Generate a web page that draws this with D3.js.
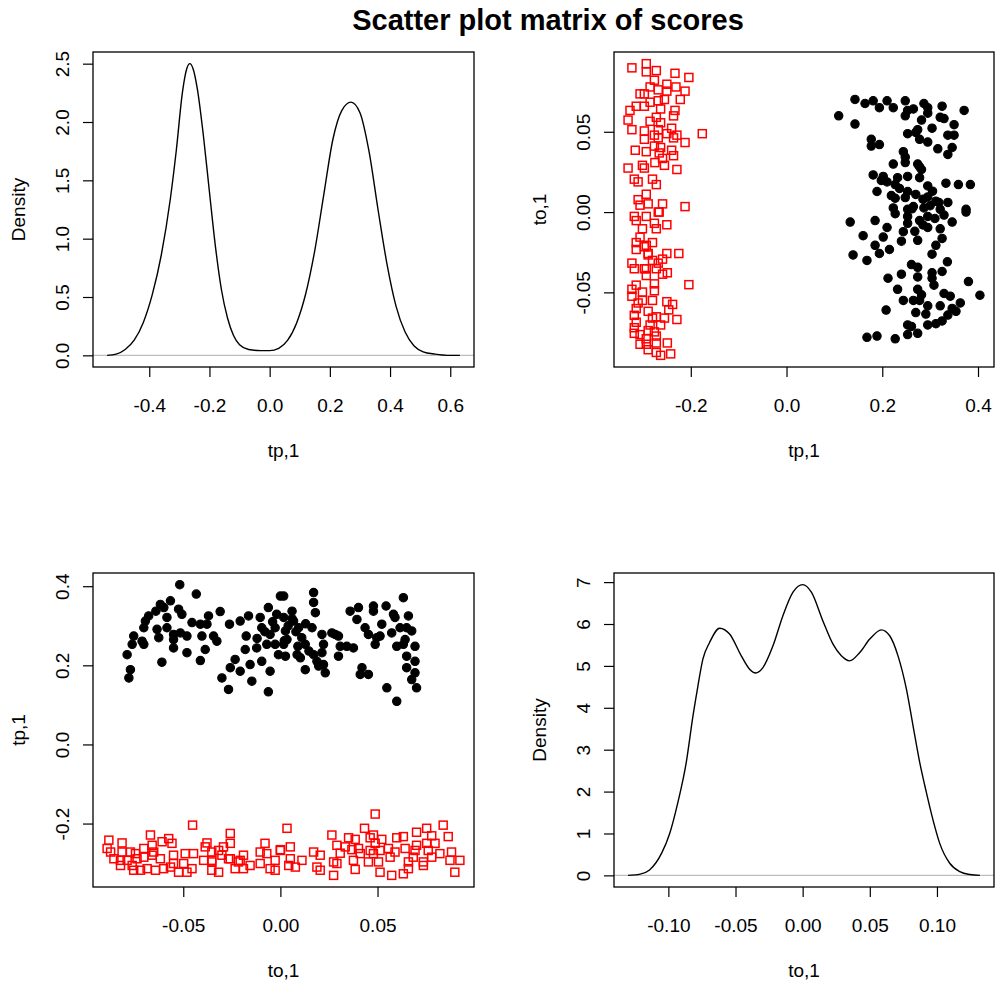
<!DOCTYPE html>
<html>
<head>
<meta charset="utf-8">
<script src="https://cdn.jsdelivr.net/npm/d3@7"></script>
<style>
  body { margin: 0; background: #fff; }
  svg { display: block; }
  text { font-family: "Liberation Sans", Arial, Helvetica, sans-serif; fill: #000; }
</style>
</head>
<body>
<svg id="chart" width="995" height="981"></svg>
<script>
// Scores of the first group: [to,1 , tp,1]
const blackScores = [
  [-0.0518,0.404],[-0.0433,0.380],[-0.0566,0.363],[-0.0618,0.354],[-0.0600,0.346],[-0.0641,0.337],
  [-0.0524,0.342],[-0.0507,0.329],[-0.0678,0.325],[-0.0695,0.312],[-0.0584,0.321],[-0.0370,0.325],
  [-0.0310,0.336],[-0.0455,0.308],[-0.0412,0.304],[-0.0378,0.304],[-0.0703,0.295],[-0.0635,0.291],
  [-0.0584,0.295],[-0.0550,0.278],[-0.0515,0.282],[-0.0481,0.274],[-0.0626,0.270],[-0.0755,0.274],
  [-0.0712,0.261],[-0.0763,0.253],[-0.0703,0.253],[-0.0550,0.265],[-0.0550,0.244],[-0.0404,0.274],
  [-0.0344,0.274],[-0.0327,0.261],[-0.0387,0.240],[-0.0481,0.232],[-0.0789,0.227],[-0.0412,0.212],
  [-0.0610,0.208],[-0.0772,0.189],[-0.0780,0.168],[-0.0301,0.168],[-0.0267,0.139],[-0.0262,0.304],
  [-0.0207,0.312],[-0.0164,0.325],[-0.0176,0.274],[-0.0181,0.240],[-0.0233,0.215],[-0.0258,0.194],
  [-0.0207,0.185],[-0.0156,0.202],[-0.0147,0.160],[-0.0096,0.210],[-0.0122,0.244],[-0.0070,0.253],
  [-0.0053,0.185],[-0.0062,0.133],[-0.0104,0.321],[-0.0062,0.346],[-0.0096,0.295],[-0.0053,0.278],
  [-0.0019,0.329],[-0.0027,0.295],[0.0000,0.375],[-0.0010,0.227],[-0.0027,0.253],
  [0.0017,0.375],[0.0171,0.384],[0.0171,0.359],[0.0180,0.333],[0.0060,0.337],[0.0017,0.321],
  [0.0068,0.312],[0.0094,0.295],[0.0026,0.287],[0.0034,0.265],[0.0017,0.253],[0.0026,0.223],
  [0.0086,0.227],[0.0128,0.253],[0.0163,0.295],[0.0147,0.236],[0.0171,0.227],[0.0188,0.210],
  [0.0128,0.189],[0.0222,0.202],[0.0231,0.181],[0.0214,0.278],[0.0222,0.253],[0.0214,0.232],
  [0.0265,0.282],[0.0299,0.274],[0.0308,0.248],[0.0299,0.223],[0.0342,0.248],[0.0376,0.244],
  [0.0359,0.337],[0.0402,0.346],[0.0394,0.316],[0.0420,0.194],[0.0411,0.177],[0.0453,0.177],
  [0.0436,0.295],[0.0453,0.278],[0.0479,0.350],[0.0479,0.337],[0.0522,0.304],[0.0496,0.270],
  [0.0488,0.253],[0.0513,0.274],[0.0544,0.350],[0.0582,0.329],[0.0590,0.321],[0.0573,0.282],
  [0.0599,0.248],[0.0633,0.371],[0.0659,0.325],[0.0650,0.295],[0.0616,0.295],[0.0642,0.265],
  [0.0676,0.287],[0.0693,0.248],[0.0633,0.253],[0.0650,0.223],[0.0693,0.210],[0.0650,0.194],
  [0.0693,0.181],[0.0676,0.164],[0.0701,0.143],[0.0548,0.143],[0.0599,0.109],[0.0282,0.278],
  [0.0103,0.219],[0.0197,0.198],
  [0.0040,0.300],[0.0080,0.285],[-0.0040,0.310],[0.0110,0.270],[0.0020,0.262],[-0.0080,0.285],
  [0.0130,0.305],[0.0060,0.318],[-0.0120,0.268],[0.0090,0.248]
];

// Scores of the second group: [to,1 , tp,1]
const redScores = [
  [-0.0452,-0.204],[-0.0669,-0.229],[-0.0575,-0.238],[-0.0258,-0.225],[-0.0883,-0.242],[-0.0815,-0.249],
  [-0.0558,-0.250],[-0.0378,-0.249],[-0.0258,-0.250],[-0.0079,-0.250],[-0.0660,-0.255],[-0.0609,-0.246],
  [-0.0892,-0.263],[-0.0703,-0.263],[-0.0387,-0.259],[-0.0293,-0.259],[0.0000,-0.266],[-0.0874,-0.272],
  [-0.0815,-0.272],[-0.0772,-0.272],[-0.0746,-0.276],[-0.0652,-0.272],[-0.0353,-0.272],[-0.0318,-0.268],
  [-0.0104,-0.272],[-0.0857,-0.289],[-0.0823,-0.293],[-0.0789,-0.293],[-0.0738,-0.289],[-0.0703,-0.285],
  [-0.0660,-0.280],[-0.0618,-0.289],[-0.0550,-0.280],[-0.0490,-0.276],[-0.0447,-0.276],[-0.0395,-0.293],
  [-0.0353,-0.293],[-0.0301,-0.280],[-0.0267,-0.289],[-0.0190,-0.280],[-0.0207,-0.293],[-0.0156,-0.306],
  [-0.0104,-0.301],[-0.0027,-0.293],[-0.0070,-0.276],[-0.0823,-0.306],[-0.0763,-0.306],[-0.0755,-0.318],
  [-0.0720,-0.318],[-0.0686,-0.314],[-0.0643,-0.318],[-0.0601,-0.314],[-0.0566,-0.310],[-0.0524,-0.323],
  [-0.0481,-0.323],[-0.0455,-0.314],[-0.0498,-0.301],[-0.0550,-0.301],[-0.0353,-0.318],[-0.0318,-0.323],
  [-0.0353,-0.297],[-0.0233,-0.314],[-0.0190,-0.314],[-0.0053,-0.314],[-0.0027,-0.318],[-0.0258,-0.289],
  [-0.0216,-0.297],
  [0.0488,-0.176],[0.0034,-0.212],[0.0433,-0.212],[0.0838,-0.204],[0.0753,-0.212],[0.0265,-0.229],
  [0.0701,-0.222],[0.0779,-0.231],[0.0864,-0.233],[0.0351,-0.236],[0.0385,-0.240],[0.0462,-0.236],
  [0.0479,-0.229],[0.0522,-0.240],[0.0599,-0.236],[0.0633,-0.233],[0.0051,-0.259],[0.0291,-0.255],
  [0.0334,-0.259],[0.0402,-0.263],[0.0488,-0.250],[0.0556,-0.263],[0.0701,-0.255],[0.0753,-0.250],
  [0.0796,-0.250],[0.0000,-0.268],[0.0171,-0.272],[0.0308,-0.275],[0.0368,-0.266],[0.0462,-0.268],
  [0.0513,-0.268],[0.0590,-0.272],[0.0642,-0.263],[0.0693,-0.268],[0.0761,-0.268],[0.0881,-0.272],
  [0.0051,-0.289],[0.0111,-0.293],[0.0205,-0.280],[0.0274,-0.297],[0.0376,-0.293],[0.0453,-0.297],
  [0.0505,-0.297],[0.0565,-0.285],[0.0659,-0.297],[0.0684,-0.285],[0.0736,-0.297],[0.0779,-0.285],
  [0.0821,-0.276],[0.0873,-0.293],[0.0924,-0.293],[0.0043,-0.306],[0.0077,-0.310],[0.0188,-0.310],
  [0.0205,-0.318],[0.0274,-0.331],[0.0385,-0.316],[0.0513,-0.323],[0.0573,-0.331],[0.0633,-0.327],
  [0.0659,-0.314],[0.0898,-0.323],[0.0736,-0.306],[0.0291,-0.301],[0.0411,-0.276],[0.0479,-0.276]
];

// Kernel density of tp,1
const tpDensX = [-0.540,-0.510,-0.480,-0.450,-0.420,-0.390,-0.360,-0.330,-0.310,-0.290,-0.275,-0.265,
  -0.255,-0.240,-0.220,-0.200,-0.180,-0.160,-0.140,-0.120,-0.100,-0.070,-0.030,0.000,0.030,0.060,
  0.090,0.120,0.150,0.180,0.210,0.240,0.270,0.300,0.330,0.360,0.390,0.420,0.450,0.480,0.510,0.550,
  0.590,0.632];
const tpDensY = [0.00,0.01,0.05,0.13,0.28,0.52,0.86,1.34,1.76,2.25,2.46,2.50,
  2.46,2.28,1.88,1.40,0.93,0.56,0.32,0.17,0.09,0.05,0.04,0.04,0.06,0.13,
  0.28,0.53,0.90,1.38,1.85,2.10,2.17,2.08,1.75,1.25,0.78,0.42,0.20,0.08,0.03,0.01,
  0.00,0.00];

// Kernel density of to,1
const toDensX = [-0.130,-0.121,-0.114,-0.105,-0.099,-0.093,-0.0867,-0.0817,-0.078,-0.0743,-0.0693,
  -0.0618,-0.0544,-0.0457,-0.0395,-0.035,-0.0296,-0.0221,-0.0147,-0.0072,0.000,0.0065,0.015,0.0226,
  0.0288,0.035,0.0425,0.050,0.0586,0.0648,0.071,0.0773,0.0822,0.0872,0.0922,0.097,0.102,0.1095,
  0.117,0.1245,0.132];
const toDensY = [0.00,0.03,0.13,0.53,1.00,1.73,2.69,3.80,4.52,5.16,5.56,
  5.90,5.76,5.24,4.92,4.83,4.96,5.48,6.20,6.76,6.94,6.76,6.08,5.52,
  5.24,5.12,5.32,5.64,5.86,5.72,5.24,4.44,3.57,2.69,1.97,1.33,0.77,0.29,
  0.09,0.02,0.00];

// Axis ticks
const tpDensTicksX = [-0.4,-0.2,0.0,0.2,0.4,0.6];
const tpDensTicksY = [0.0,0.5,1.0,1.5,2.0,2.5];
const tpTicks = [-0.2,0.0,0.2,0.4];
const toTicks = [-0.05,0.00,0.05];
const toDensTicksX = [-0.10,-0.05,0.00,0.05,0.10];
const toDensTicksY = [0,1,2,3,4,5,6,7];

const svg = d3.select('#chart');
svg.append('rect').attr('width', 995).attr('height', 981).attr('fill', '#fff');

svg.append('text')
  .attr('x', 548).attr('y', 30)
  .attr('text-anchor', 'middle')
  .attr('font-size', 29).attr('font-weight', 'bold')
  .text('Scatter plot matrix of scores');

const boxes = {
  tl: { x: 93,  y: 52,  w: 381, h: 315 },
  tr: { x: 614, y: 52,  w: 380, h: 315 },
  bl: { x: 93,  y: 573, w: 381, h: 314 },
  br: { x: 614, y: 573, w: 380, h: 314 }
};

const FS = 19;

// Range extended by 4% on each side, as in base R plots
function padded(vals) {
  const [a, b] = d3.extent(vals);
  const p = (b - a) * 0.04;
  return [a - p, b + p];
}

// Number formats with a plain hyphen for negatives
const locale = d3.formatLocale({ decimal: '.', thousands: ',', grouping: [3], currency: ['', ''], minus: '-' });
const f1 = locale.format('.1f');
const f2 = locale.format('.2f');
const f0 = locale.format('d');

function frame(b, x, y, xt, xf, yt, yf, xlab, ylab) {
  const g = svg.append('g');
  const xa = d3.axisBottom(x).tickValues(xt).tickFormat(xf).tickSize(10).tickSizeOuter(0);
  const gx = g.append('g').attr('transform', `translate(0,${b.y + b.h})`).call(xa);
  gx.select('.domain').remove();
  gx.selectAll('.tick line').attr('stroke', '#000').attr('stroke-width', 1.2);
  gx.selectAll('.tick text')
    .attr('y', 38).attr('dy', '0.35em')
    .attr('font-size', FS).attr('fill', '#000');

  const ya = d3.axisLeft(y).tickValues(yt).tickFormat(yf).tickSize(10).tickSizeOuter(0);
  const gy = g.append('g').attr('transform', `translate(${b.x},0)`).call(ya);
  gy.select('.domain').remove();
  gy.selectAll('.tick line').attr('stroke', '#000').attr('stroke-width', 1.2);
  gy.selectAll('.tick text')
    .attr('x', 0).attr('y', 0).attr('dy', '0.35em')
    .attr('text-anchor', 'middle')
    .attr('transform', 'translate(-31,0) rotate(-90)')
    .attr('font-size', FS).attr('fill', '#000');

  g.append('rect')
    .attr('x', b.x).attr('y', b.y).attr('width', b.w).attr('height', b.h)
    .attr('fill', 'none').attr('stroke', '#000').attr('stroke-width', 1.3);

  g.append('text')
    .attr('x', b.x + b.w / 2).attr('y', b.y + b.h + 83).attr('dy', '0.35em')
    .attr('text-anchor', 'middle').attr('font-size', FS)
    .text(xlab);
  g.append('text')
    .attr('transform', `translate(${b.x - 75},${b.y + b.h / 2}) rotate(-90)`)
    .attr('dy', '0.35em')
    .attr('text-anchor', 'middle').attr('font-size', FS)
    .text(ylab);
  return g;
}

function clipFor(id, b) {
  svg.append('clipPath').attr('id', id)
    .append('rect').attr('x', b.x).attr('y', b.y).attr('width', b.w).attr('height', b.h);
  return `url(#${id})`;
}

function densityPanel(b, xs, ys, xt, xf, yt, yf, xlab, id) {
  const x = d3.scaleLinear().domain(padded(xs)).range([b.x, b.x + b.w]);
  const y = d3.scaleLinear().domain(padded([0, d3.max(ys)])).range([b.y + b.h, b.y]);
  const clip = clipFor(id, b);
  svg.append('line')
    .attr('clip-path', clip)
    .attr('x1', b.x).attr('x2', b.x + b.w)
    .attr('y1', y(0)).attr('y2', y(0))
    .attr('stroke', '#bebebe').attr('stroke-width', 1.3);
  const line = d3.line().x(d => x(d[0])).y(d => y(d[1])).curve(d3.curveMonotoneX);
  svg.append('path')
    .attr('clip-path', clip)
    .datum(d3.zip(xs, ys))
    .attr('d', line)
    .attr('fill', 'none').attr('stroke', '#000').attr('stroke-width', 1.4);
  frame(b, x, y, xt, xf, yt, yf, xlab, 'Density');
}

function scatterPanel(b, xKey, yKey, xt, xf, yt, yf, xlab, ylab) {
  const all = blackScores.concat(redScores);
  const x = d3.scaleLinear().domain(padded(all.map(d => d[xKey]))).range([b.x, b.x + b.w]);
  const y = d3.scaleLinear().domain(padded(all.map(d => d[yKey]))).range([b.y + b.h, b.y]);
  const g = svg.append('g');
  g.selectAll('circle').data(blackScores).join('circle')
    .attr('cx', d => x(d[xKey])).attr('cy', d => y(d[yKey]))
    .attr('r', 4.2)
    .attr('fill', '#000').attr('stroke', '#000').attr('stroke-width', 1.1);
  const s = 8;
  g.selectAll('rect.sq').data(redScores).join('rect')
    .attr('class', 'sq')
    .attr('x', d => x(d[xKey]) - s / 2).attr('y', d => y(d[yKey]) - s / 2)
    .attr('width', s).attr('height', s)
    .attr('fill', 'none').attr('stroke', '#ff0000').attr('stroke-width', 1.5);
  frame(b, x, y, xt, xf, yt, yf, xlab, ylab);
}

// tp,1 density
densityPanel(boxes.tl, tpDensX, tpDensY, tpDensTicksX, f1, tpDensTicksY, f1, 'tp,1', 'clipTL');
// tp,1 against to,1
scatterPanel(boxes.tr, 1, 0, tpTicks, f1, toTicks, f2, 'tp,1', 'to,1');
// to,1 against tp,1
scatterPanel(boxes.bl, 0, 1, toTicks, f2, tpTicks, f1, 'to,1', 'tp,1');
// to,1 density
densityPanel(boxes.br, toDensX, toDensY, toDensTicksX, f2, toDensTicksY, f0, 'to,1', 'clipBR');
</script>
</body>
</html>
